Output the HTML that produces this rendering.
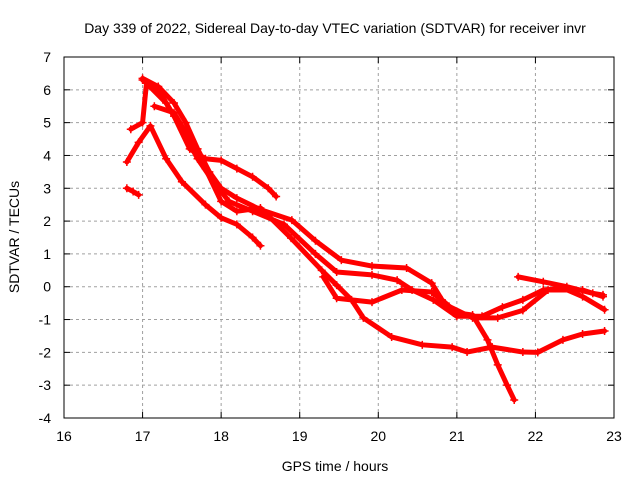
<!DOCTYPE html>
<html><head><meta charset="utf-8"><style>
body{margin:0;background:#fff}
svg{display:block;font-family:"Liberation Sans",sans-serif}
</style></head><body>
<svg id="chart" width="640" height="480">
<text x="335" y="33" font-size="14" text-anchor="middle">Day 339 of 2022, Sidereal Day-to-day VTEC variation (SDTVAR) for receiver invr</text>
<text x="335" y="471" font-size="14" text-anchor="middle">GPS time / hours</text>
<text x="0" y="0" font-size="14" text-anchor="middle" transform="translate(19,237) rotate(-90)">SDTVAR / TECUs</text>
<g id="grid"></g><g id="series"></g><g id="axes"></g>
</svg>
<script>
const xTicks=[16,17,18,19,20,21,22,23];
const yTicks=[-4,-3,-2,-1,0,1,2,3,4,5,6,7];
const track1=[[17.0,6.35],[17.2,6.1],[17.4,5.6],[17.55,5.0],[17.7,4.2],[17.85,3.5],[18.0,3.0],[18.2,2.7],[18.5,2.35],[18.9,2.03],[19.2,1.4],[19.53,0.81],[19.92,0.63],[20.36,0.57],[20.68,0.11],[20.81,-0.4],[21.0,-0.8],[21.2,-0.86],[21.39,-1.62],[21.52,-2.38],[21.64,-3.0],[21.73,-3.45]];
const track2=[[17.15,5.5],[17.4,5.3],[17.6,4.5],[17.8,3.6],[18.0,2.6],[18.2,2.3],[18.5,2.4],[18.89,1.48],[19.28,0.5],[19.47,0.05],[19.66,-0.4],[19.81,-0.95],[20.17,-1.53],[20.56,-1.77],[20.94,-1.84],[21.13,-1.99],[21.45,-1.84],[21.84,-1.99],[22.03,-2.0],[22.35,-1.62],[22.6,-1.44],[22.88,-1.35]];
const track3=[[17.0,6.3],[17.2,6.0],[17.4,5.2],[17.6,4.2],[17.8,3.9],[18.0,3.85],[18.2,3.6],[18.4,3.35],[18.6,3.0],[18.7,2.75]];
const track4=[[16.8,3.8],[16.95,4.4],[17.1,4.9],[17.3,3.9],[17.5,3.2],[17.8,2.5],[18.0,2.1],[18.2,1.9],[18.4,1.5],[18.5,1.25]];
const track5=[[16.8,3.0],[16.88,2.9],[16.95,2.8]];
const track6=[[16.85,4.8],[17.0,5.0],[17.05,6.2],[17.3,5.6],[17.5,4.8],[17.7,3.9],[17.9,3.2],[18.1,2.6],[18.4,2.3],[18.8,1.9],[19.2,1.0],[19.47,0.45],[19.92,0.36],[20.24,0.2],[20.43,-0.1],[20.7,-0.4],[21.0,-0.9],[21.32,-0.9],[21.58,-0.62],[21.84,-0.4],[22.1,-0.1],[22.35,-0.04],[22.6,-0.3],[22.88,-0.7]];
const track7=[[19.3,0.3],[19.47,-0.35],[19.92,-0.47],[20.3,-0.1],[20.68,-0.16],[20.9,-0.6],[21.2,-0.95],[21.52,-0.95],[21.84,-0.72],[22.16,-0.1],[22.6,-0.1],[22.86,-0.3]];
const track8=[[21.78,0.3],[22.1,0.15],[22.4,0.0],[22.73,-0.2],[22.86,-0.25]];
const tracks=[track1,track2,track3,track4,track5,track6,track7,track8];
const X0=64,X1=614,Y0=418,Y1=57,XMIN=16,XMAX=23,YMIN=-4,YMAX=7;
function sx(h){return X0+(h-XMIN)/(XMAX-XMIN)*(X1-X0);}
function sy(v){return Y0-(v-YMIN)/(YMAX-YMIN)*(Y0-Y1);}
const NS="http://www.w3.org/2000/svg";
function mk(t,a,p){const e=document.createElementNS(NS,t);for(const k in a)e.setAttribute(k,a[k]);p.appendChild(e);return e;}
const grid=document.getElementById('grid'),axes=document.getElementById('axes'),ser=document.getElementById('series');
xTicks.forEach(t=>{const x=sx(t);
 if(t>XMIN&&t<XMAX){const g=mk('line',{x1:x,x2:x,y1:Y0,y2:Y1,stroke:'#a0a0a0','stroke-dasharray':'3,3'},grid);
 
 }
 mk('line',{x1:x,x2:x,y1:Y0,y2:Y0-6,stroke:'#000'},axes);mk('line',{x1:x,x2:x,y1:Y1,y2:Y1+6,stroke:'#000'},axes);
 const l=mk('text',{x:x,y:Y0+23,'font-size':14,'text-anchor':'middle'},axes);l.textContent=t;
 
 });
yTicks.forEach(t=>{const y=sy(t);
 if(t>YMIN&&t<YMAX){const g=mk('line',{x1:X0,x2:X1,y1:y,y2:y,stroke:'#a0a0a0','stroke-dasharray':'3,3'},grid);
 
 }
 mk('line',{x1:X0,x2:X0+6,y1:y,y2:y,stroke:'#000'},axes);mk('line',{x1:X1,x2:X1-6,y1:y,y2:y,stroke:'#000'},axes);
 const l=mk('text',{x:51,y:y+5,'font-size':14,'text-anchor':'end'},axes);l.textContent=t;
 
 });
const box=mk('rect',{x:X0,y:Y1,width:X1-X0,height:Y0-Y1,fill:'none',stroke:'#000'},axes);


tracks.forEach((tr,i)=>{
 const g=mk('g',{},ser);
 
 
 mk('polyline',{points:tr.map(p=>sx(p[0])+','+sy(p[1])).join(' '),fill:'none',stroke:'#ff0000','stroke-width':5,'stroke-linejoin':'round','stroke-linecap':'round'},g);
 tr.forEach(p=>{const x=sx(p[0]),y=sy(p[1]);
  mk('path',{d:`M${x-4},${y}h8M${x},${y-4}v8`,stroke:'#ff0000','stroke-width':1.5},g);});
});
</script>
</body></html>
